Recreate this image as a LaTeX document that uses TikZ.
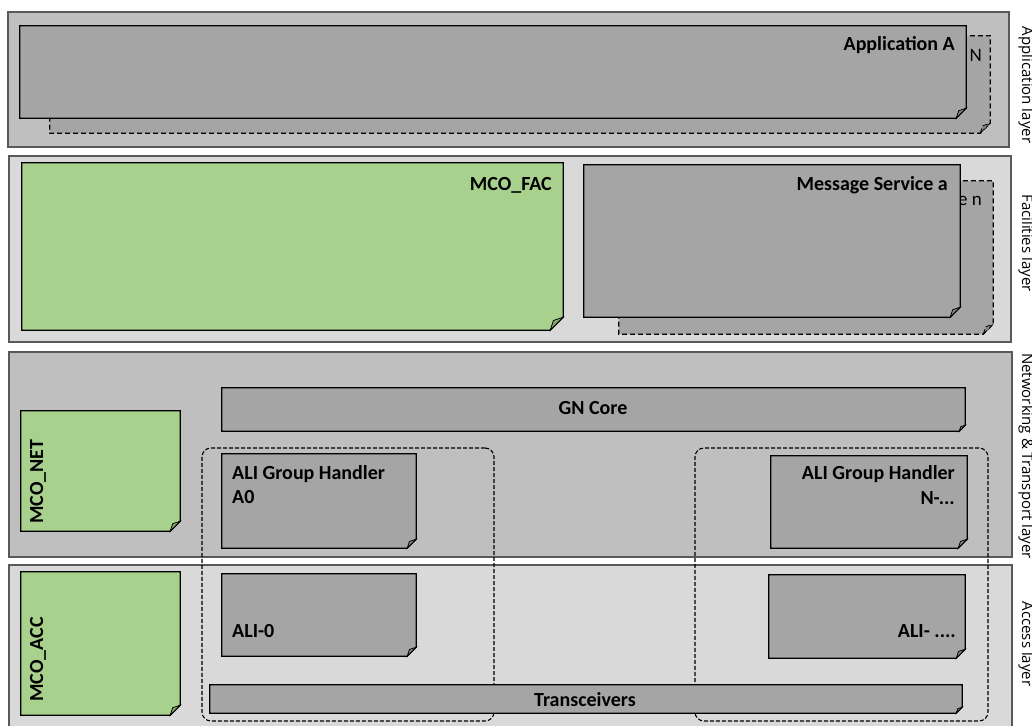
\documentclass[tikz,border=0pt]{standalone}
\usepackage{fontspec}
\setmainfont{Carlito}
\newfontfamily\sidefont{Open Sans}
\usetikzlibrary{fit}

\definecolor{layerdark}{HTML}{BFBFBF}
\definecolor{layerlight}{HTML}{D9D9D9}
\definecolor{entity}{HTML}{A5A5A5}
\definecolor{mco}{HTML}{A9D18E}
\definecolor{rim}{HTML}{595959}

\tikzset{
  layer/.style={draw=rim, line width=1.2pt, inner sep=0pt},
  grp/.style={draw=black, line width=1.1pt, dash pattern=on 4pt off 2pt,
              rounded corners=9pt, inner sep=0pt},
  backbox/.style={dash pattern=on 5pt off 3pt},
  lbl/.style={font=\bfseries\fontsize{20}{23}\selectfont, inner sep=0pt},
  ghost/.style={font=\fontsize{19}{22}\selectfont, inner sep=0pt},
  side/.style={font=\sidefont\fontsize{15}{17}\selectfont, rotate=-90,
               inner sep=0pt, anchor=base},
}

% box with a folded bottom-right corner:
% #1 name, #2 top-left, #3 bottom-right, #4 fill, #5 fold size, #6 extra style
\newcommand\dogear[6]{%
  \node[fit={#2 #3}, inner sep=0pt] (#1) {};
  \draw[fill=#4, line width=1.3pt, line join=miter, #6]
    (#1.north west) -- (#1.north east) -- ([yshift=#5]#1.south east)
    -- ([xshift=-#5]#1.south east) -- (#1.south west) -- cycle;
  \draw[fill=#4!80!black, line width=0.8pt, #6]
    ([xshift=-#5]#1.south east)
    .. controls ([xshift=-0.85*#5, yshift=0.45*#5]#1.south east) ..
    ([xshift=-0.75*#5, yshift=0.75*#5]#1.south east)
    -- ([yshift=#5]#1.south east) -- cycle;
}

\begin{document}
\begin{tikzpicture}[x=1pt, y=-1pt]
\clip (0,0) rectangle (1032,725);

% ---- layers ----
\node[layer, fill=layerdark,  fit={(8,12) (1009,147)}]  (applayer) {};
\node[layer, fill=layerlight, fit={(9,156) (1011,342)}] (faclayer) {};
\node[layer, fill=layerdark,  fit={(9,352) (1012,557)}] (netlayer) {};
\node[layer, fill=layerlight, fit={(9,565) (1012,730)}] (acclayer) {};

% ---- layer names ----
\node[side] (appname) at (1022,85)  {Application layer};
\node[side] (facname) at (1022,243) {Facilities layer};
\node[side] (netname) at (1022,456) {Networking \& Transport layer};
\node[side] (accname) at (1022,644) {Access layer};

% ---- ALI groups ----
\node[grp, fit={(202,448) (494,721)}] (grpA) {};
\node[grp, fit={(695,448) (988,721)}] (grpN) {};

% ---- application layer ----
\dogear{appN}{(50,36)}{(990,133)}{entity}{10pt}{backbox}
\node[ghost, anchor=base east] (appNtxt) at (982,61) {N};
\dogear{appA}{(20,26)}{(966,118)}{entity}{10pt}{}
\node[lbl, anchor=base east] (appAtxt) at (955,50) {Application A};

% ---- facilities layer ----
\dogear{mcofac}{(22,163)}{(563,330)}{mco}{13pt}{}
\node[lbl, anchor=base east] (mcofactxt) at (552,190) {MCO\_FAC};
\dogear{msgN}{(619,181)}{(993,334)}{entity}{10pt}{backbox}
\node[ghost, anchor=base east] (msgNtxt) at (982,205) {e n};
\dogear{msgA}{(584,165)}{(960,317)}{entity}{10pt}{}
\node[lbl, anchor=base east] (msgAtxt) at (948,190) {Message Service a};

% ---- networking & transport layer ----
\dogear{gncore}{(222,388)}{(965,431)}{entity}{6pt}{}
\node[lbl, anchor=base] (gntxt) at (593,414) {GN Core};
\dogear{mconet}{(21,411)}{(180,531)}{mco}{10pt}{}
\node[lbl, rotate=90, anchor=base west] (mconettxt) at (43,524) {MCO\_NET};
\dogear{ghA}{(222,454)}{(416,548)}{entity}{9pt}{}
\node[lbl, anchor=base west] (ghAtxt1) at (232,479) {ALI Group Handler};
\node[lbl, anchor=base west] (ghAtxt2) at (232,503) {A0};
\dogear{ghN}{(771,456)}{(967,548)}{entity}{9pt}{}
\node[lbl, anchor=base east] (ghNtxt1) at (955,479) {ALI Group Handler};
\node[lbl, anchor=base east] (ghNtxt2) at (955,504) {N-...};

% ---- access layer ----
\dogear{mcoacc}{(21,572)}{(180,715)}{mco}{10pt}{}
\node[lbl, rotate=90, anchor=base west] (mcoacctxt) at (43,702) {MCO\_ACC};
\dogear{ali0}{(222,574)}{(416,656)}{entity}{9pt}{}
\node[lbl, anchor=base west] (ali0txt) at (232,637) {ALI-0};
\dogear{aliN}{(769,575)}{(965,658)}{entity}{9pt}{}
\node[lbl, anchor=base east] (aliNtxt) at (956,637) {ALI- ....};
\dogear{trx}{(210,685)}{(962,713)}{entity}{6pt}{}
\node[lbl, anchor=base] (trxtxt) at (585,706) {Transceivers};
\end{tikzpicture}
\end{document}
